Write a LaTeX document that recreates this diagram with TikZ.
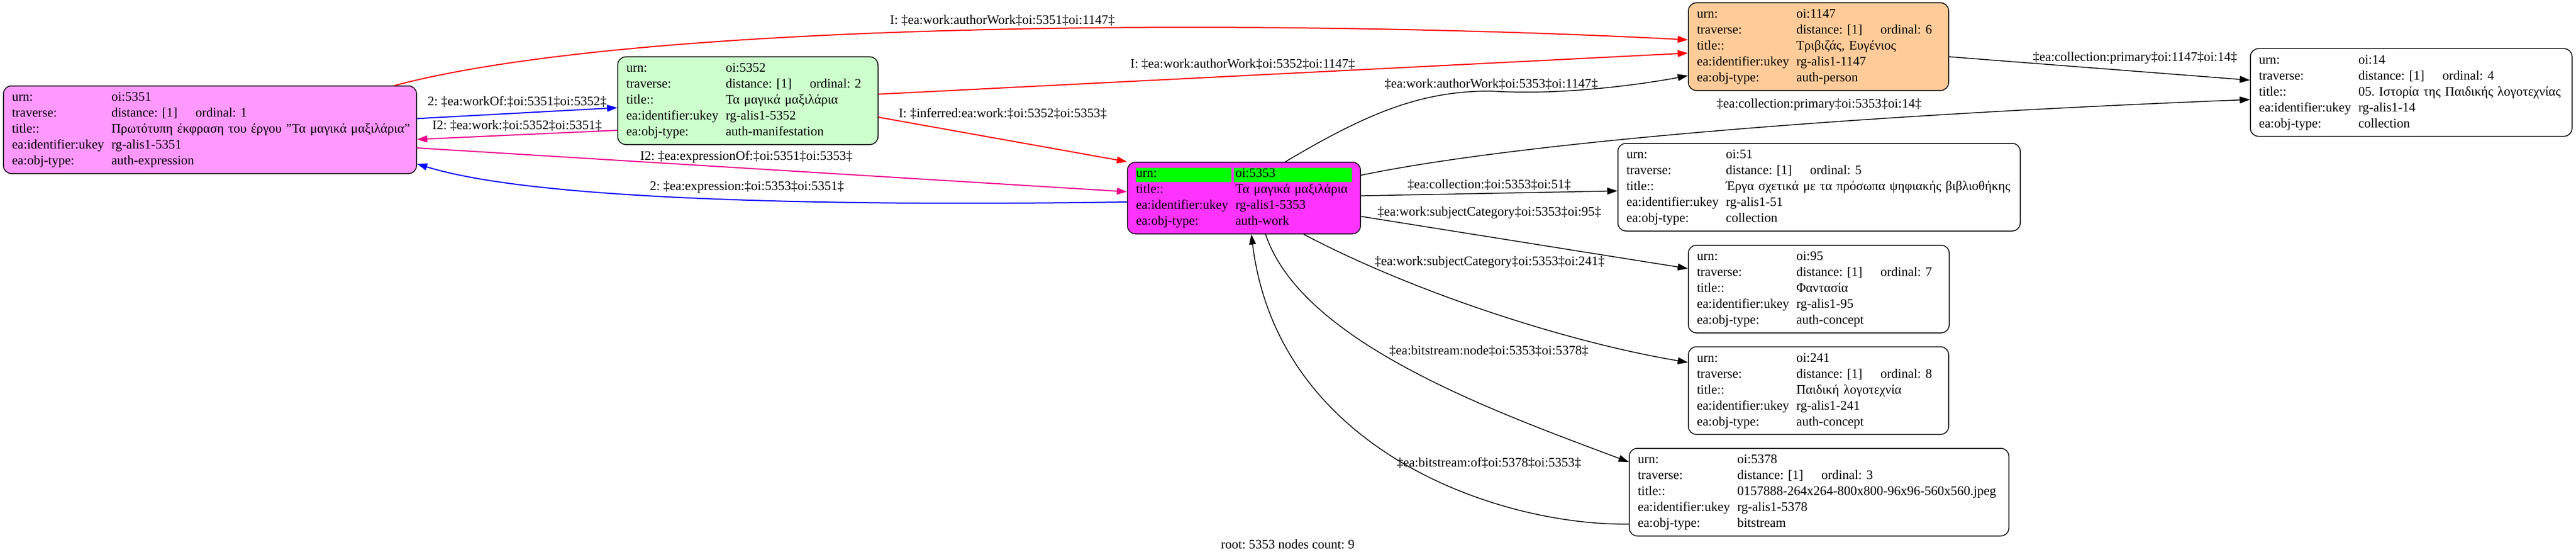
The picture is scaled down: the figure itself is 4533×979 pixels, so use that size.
\documentclass[tikz,border=0pt]{standalone}
\usepackage{fontspec}
\setmainfont{Liberation Serif}
\usepackage{xcolor}
\usepackage{tikz}
\usetikzlibrary{positioning}
\usetikzlibrary{arrows.meta}
\definecolor{exprpink}{RGB}{255,153,255}
\definecolor{manifgreen}{RGB}{204,255,204}
\definecolor{workpink}{RGB}{255,51,255}
\definecolor{rootgreen}{RGB}{0,255,0}
\definecolor{personpeach}{RGB}{255,204,153}
\frenchspacing
\newcommand{\nodefont}{\fontsize{23}{28}\selectfont}
\newcommand{\trav}[1]{\makebox[148pt][l]{distance: [1]}ordinal: #1}
% one record: urn, ordinal, title, ukey, type
\newcommand{\objrows}[5]{%
  \begin{tabular}{@{}p{175pt}@{}l@{}}
    urn: & #1\\
    traverse: & \trav{#2}\\
    title:: & #3\\
    ea:identifier:ukey & #4\\
    ea:obj-type: & #5
  \end{tabular}}
\newcommand{\hlcell}[2]{{\setlength{\fboxsep}{0pt}\colorbox{rootgreen}{\rule[-8pt]{0pt}{25pt}\makebox[#1][l]{#2}}}}
\tikzset {
  % record box
  obj/.style = {draw, fill=white, rounded corners=14pt, line width=1.5pt,
    inner xsep=15pt, inner ysep=7pt, align=left, font=\nodefont},
  % edge labels
  lbl/.style = {font=\nodefont, text=black, inner sep=1pt},
  % connectors
  plain/.style = {line width=1.5pt, -{Triangle[length=18pt,width=12pt]}},
  inferred/.style = {plain, red, line width=2pt},
  primary/.style = {plain, blue, line width=2pt},
  inverse/.style = {plain, magenta, line width=2pt},
}

\begin{document}
\begin{tikzpicture}[x=1pt, y=-1pt]
  \useasboundingbox (0,0) rectangle (4533,979);

  \node[obj, fill=exprpink, text width=697pt] (n5351) at (369.5,228)
    {\objrows{oi:5351}{1}{Πρωτότυπη έκφραση του έργου "Τα μαγικά μαξιλάρια"}{rg-alis1-5351}{auth-expression}};
  \node[obj, fill=manifgreen, text width=428pt] (n5352) at (1316,177)
    {\objrows{oi:5352}{2}{Τα μαγικά μαξιλάρια}{rg-alis1-5352}{auth-manifestation}};
  \node[obj, fill=workpink, text width=380pt] (n5353) at (2189,348)
    {\begin{tabular}{@{}p{175pt}@{}l@{}}
      \hlcell{168pt}{urn:} & \hspace{-3pt}\hlcell{208pt}{\hspace{3pt}oi:5353}\\
      title:: & Τα μαγικά μαξιλάρια\\
      ea:identifier:ukey & rg-alis1-5353\\
      ea:obj-type: & auth-work
    \end{tabular}};
  \node[obj, fill=personpeach, text width=428pt] (n1147) at (3200,82)
    {\objrows{oi:1147}{6}{Τριβιζάς, Ευγένιος}{rg-alis1-1147}{auth-person}};
  \node[obj, text width=536pt] (n14) at (4243,162.5)
    {\objrows{oi:14}{4}{05. Ιστορία της Παιδικής λογοτεχνίας}{rg-alis1-14}{collection}};
  \node[obj, text width=678pt] (n51) at (3201,329)
    {\objrows{oi:51}{5}{Έργα σχετικά με τα πρόσωπα ψηφιακής βιβλιοθήκης}{rg-alis1-51}{collection}};
  \node[obj, text width=429pt] (n95) at (3200.5,508)
    {\objrows{oi:95}{7}{Φαντασία}{rg-alis1-95}{auth-concept}};
  \node[obj, text width=428pt] (n241) at (3200,686.5)
    {\objrows{oi:241}{8}{Παιδική λογοτεχνία}{rg-alis1-241}{auth-concept}};
  \node[obj, text width=638pt] (n5378) at (3201,865)
    {\objrows{oi:5378}{3}{0157888-264x264-800x800-96x96-560x560.jpeg}{rg-alis1-5378}{bitstream}};

  % inferred (red)
  \draw[inferred] ([xshift=325pt]n5351.north) .. controls (1150,30) and (2300,35) .. ([yshift=12pt]n1147.west)
    node[lbl, pos=0.5, xshift=12pt, yshift=16pt] (l1) {I: ‡ea:work:authorWork‡oi:5351‡oi:1147‡};
  \draw[inferred] (n5352) -- node[lbl, pos=0.45, yshift=20pt] (l2) {I: ‡ea:work:authorWork‡oi:5352‡oi:1147‡} (n1147);
  \draw[inferred] ([yshift=-29pt]n5352.east) -- node[lbl, pos=0.5, yshift=45pt] (l7) {I: ‡inferred:ea:work:‡oi:5352‡oi:5353‡} (n5353.north west);

  % blue and magenta
  \draw[primary] (n5351) -- node[lbl, yshift=20pt] (l3) {2: ‡ea:workOf:‡oi:5351‡oi:5352‡} (n5352);
  \draw[inverse] ([yshift=-52pt]n5352.west) -- node[lbl, yshift=16pt] (l4) {I2: ‡ea:work:‡oi:5352‡oi:5351‡} ([yshift=-17pt]n5351.east);
  \draw[inverse] ([yshift=-32pt]n5351.east) -- node[lbl, pos=0.464, yshift=20pt] (l5) {I2: ‡ea:expressionOf:‡oi:5351‡oi:5353‡} ([yshift=11pt]n5353.west);
  \draw[primary] ([yshift=-7pt]n5353.west) .. controls (1500,362) and (950,355) .. ([yshift=-60pt]n5351.east)
    node[lbl, pos=0.5, xshift=56pt, yshift=20pt] (l6) {2: ‡ea:expression:‡oi:5353‡oi:5351‡};

  % plain (black)
  \draw[plain] ([xshift=73pt]n5353.north) .. controls (2412,195) and (2504,160) .. (2624,160)
    node[lbl, yshift=12pt] (l8) {‡ea:work:authorWork‡oi:5353‡oi:1147‡}
    .. controls (2740,168) and (2880,150) .. ([yshift=-51pt]n1147.west);
  \draw[plain] ([yshift=40pt]n5353.east) .. controls (2650,255) and (3200,205) .. ([yshift=-12.5pt]n14.west)
    node[lbl, pos=0.62, xshift=12pt, yshift=33pt] (l9) {‡ea:collection:primary‡oi:5353‡oi:14‡};
  \draw[plain] (n5353) -- node[lbl, yshift=15pt] (l10) {‡ea:collection:‡oi:5353‡oi:51‡} (n51);
  \draw[plain] (n5353) -- node[lbl, pos=0.393, yshift=42pt] (l11) {‡ea:work:subjectCategory‡oi:5353‡oi:95‡} (n95);
  \draw[plain] ([xshift=105pt]n5353.south) .. controls (2480,510) and (2750,600) .. ([yshift=49.5pt]n241.west)
    node[lbl, pos=0.5, xshift=2pt, yshift=86pt] (l12) {‡ea:work:subjectCategory‡oi:5353‡oi:241‡};
  \draw[plain] ([xshift=38pt]n5353.south) .. controls (2290,600) and (2620,720) .. ([yshift=53pt]n5378.west)
    node[lbl, pos=0.5, xshift=142pt, yshift=31pt] (l13) {‡ea:bitstream:node‡oi:5353‡oi:5378‡};
  \draw[plain] ([yshift=-56pt]n5378.west) .. controls (2650,925) and (2250,800) .. ([xshift=13pt]n5353.south)
    node[lbl, pos=0.5, xshift=149pt] (l14) {‡ea:bitstream:of‡oi:5378‡oi:5353‡};
  \draw[plain] (n1147) -- node[lbl, pos=0.618, yshift=23pt] (l15) {‡ea:collection:primary‡oi:1147‡oi:14‡} (n14);

  \node[lbl] (caption) at (2266,957) {root: 5353 nodes count: 9};
\end{tikzpicture}
\end{document}
